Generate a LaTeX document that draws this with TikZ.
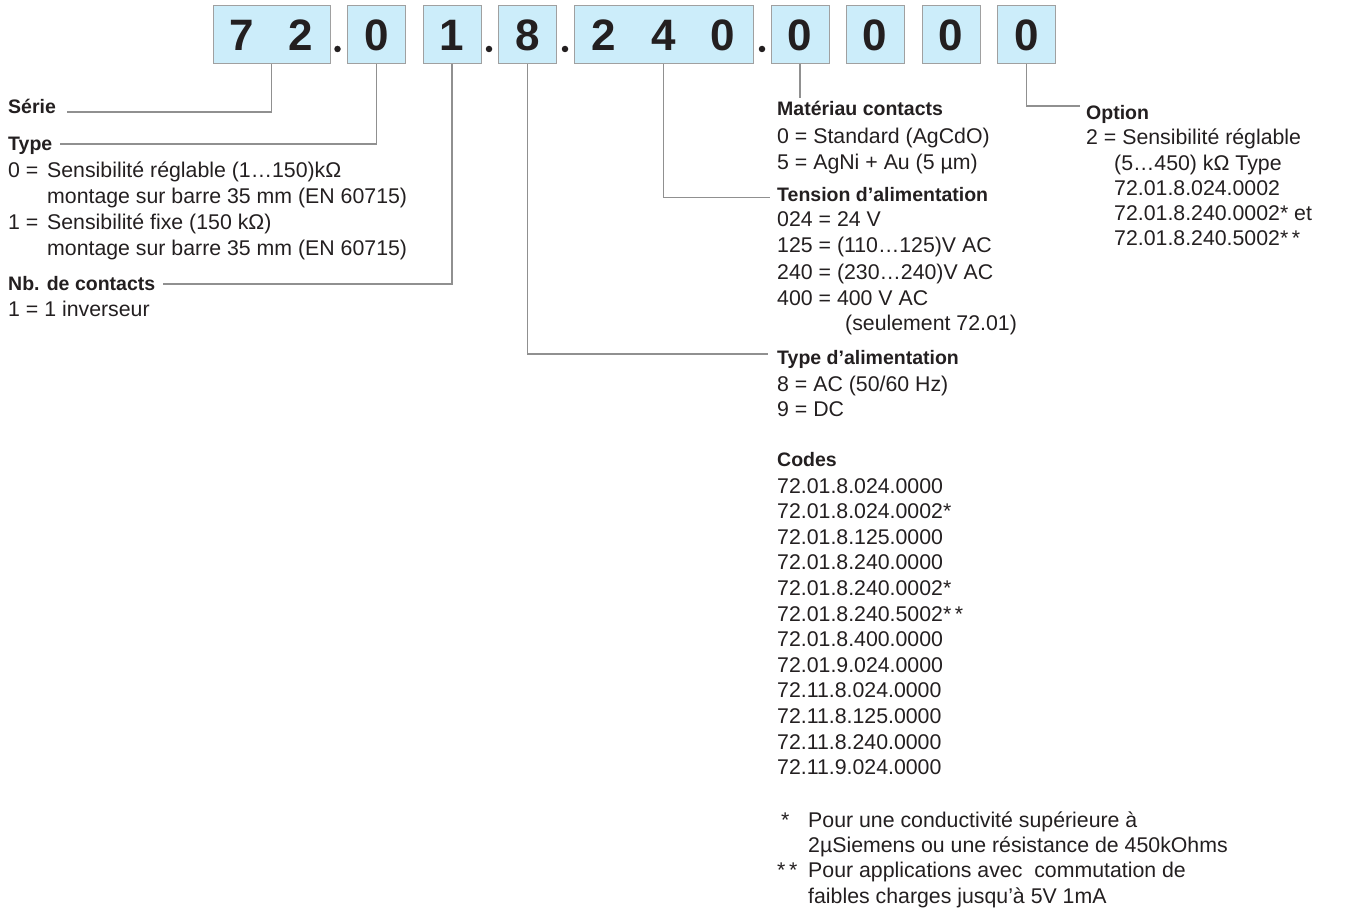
\documentclass[tikz,border=0pt]{standalone}
\usepackage{fontspec}
\setmainfont{Liberation Sans}
\definecolor{boxblue}{HTML}{CCEDFA}
\definecolor{boxgray}{HTML}{A0A0A0}
\definecolor{linegray}{HTML}{909090}
\definecolor{ink}{HTML}{231F20}
\tikzset{
  cell/.style={draw=boxgray, fill=boxblue, line width=1pt, minimum height=58pt, minimum width=58pt, inner sep=0pt, font=\fontsize{44}{44}\selectfont\bfseries, text=ink},
  digit/.style={inner sep=0pt, font=\fontsize{44}{44}\selectfont\bfseries, text=ink},
  lead/.style={draw=linegray, line width=1.1pt},
  txt/.style={anchor=base west, inner sep=0pt, font=\fontsize{21.3}{26}\selectfont, text=ink},
  hd/.style={anchor=base west, inner sep=0pt, font=\fontsize{19.5}{24}\selectfont\bfseries, text=ink},
  sep/.style={circle, fill=ink, inner sep=0pt, minimum size=6.5pt},
}
\begin{document}
\begin{tikzpicture}[x=1pt,y=-1pt]
\useasboundingbox (0,0) rectangle (1364,909);
% code boxes
\node[cell, minimum width=117pt] (b72) at (271.5,35) {};
\node[digit] (d7) at (242,35) {7};
\node[digit] (d2) at (301,35) {2};
\node[sep] (s1) at (337.5,49) {};
\node[cell] (b0a) at (376.5,35) {0};
\node[cell] (b1) at (452,35) {1};
\node[sep] (s2) at (489,49) {};
\node[cell] (b8) at (527.5,35) {8};
\node[sep] (s3) at (565,49) {};
\node[cell, minimum width=179pt] (b240) at (663.5,35) {};
\node[digit] (d2b) at (604,35) {2};
\node[digit] (d4) at (663.5,35) {4};
\node[digit] (d0) at (723,35) {0};
\node[sep] (s4) at (762,49) {};
\node[cell] (b0b) at (800,35) {0};
\node[cell] (b0c) at (875,35) {0};
\node[cell] (b0d) at (951,35) {0};
\node[cell] (b0e) at (1026.5,35) {0};

% left column
\node[hd] (serie) at (8,114) {Série};
\node[hd] (type) at (8,151) {Type};
\node[txt] (t0) at (8,177.7) {\makebox[39pt][l]{0 =}Sensibilité réglable (1…150)kΩ};
\node[txt] (t0b) at (47,203.7) {montage sur barre 35 mm (EN 60715)};
\node[txt] (t1) at (8,229.7) {\makebox[39pt][l]{1 =}Sensibilité fixe (150 kΩ)};
\node[txt] (t1b) at (47,255.7) {montage sur barre 35 mm (EN 60715)};
\node[hd] (nb) at (8,290) {Nb. de contacts};
\node[txt] (nb1) at (8,316) {1 = 1 inverseur};

% middle column
\node[hd] (mat) at (777,116) {Matériau contacts};
\node[txt] (mat0) at (777,143.3) {0 = Standard (AgCdO)};
\node[txt] (mat5) at (777,170) {5 = AgNi + Au (5 µm)};
\node[hd] (ten) at (777,201.5) {Tension d’alimentation};
\node[txt] (v024) at (777,226.7) {024 = 24 V};
\node[txt] (v125) at (777,253) {125 = (110…125)V AC};
\node[txt] (v240) at (777,279) {240 = (230…240)V AC};
\node[txt] (v400) at (777,305.5) {400 = 400 V AC};
\node[txt] (v400b) at (845,330.5) {(seulement 72.01)};
\node[hd] (tal) at (777,364) {Type d’alimentation};
\node[txt] (ac) at (777,391) {8 = AC (50/60 Hz)};
\node[txt] (dc) at (777,416) {9 = DC};
\node[hd] (codes) at (777,466) {Codes};
\foreach \c [count=\i from 0] in {72.01.8.024.0000, 72.01.8.024.0002*, 72.01.8.125.0000, 72.01.8.240.0000, 72.01.8.240.0002*, 72.01.8.240.5002*\,*, 72.01.8.400.0000, 72.01.9.024.0000, 72.11.8.024.0000, 72.11.8.125.0000, 72.11.8.240.0000, 72.11.9.024.0000}
  \node[txt] (code\i) at (777,{493+25.6*\i}) {\c};
\node[txt] (f1m) at (781,827) {*};
\node[txt] (f1a) at (808,827) {Pour une conductivité supérieure à};
\node[txt] (f1b) at (808,852) {2µSiemens ou une résistance de 450kOhms};
\node[txt] (f2m) at (777,877) {*\,*};
\node[txt] (f2a) at (808,877) {Pour applications avec\ \ commutation de};
\node[txt] (f2b) at (808,903) {faibles charges jusqu'à 5V 1mA};

% right column
\node[hd] (opt) at (1086,120) {Option};
\node[txt] (o2) at (1086,145) {2 = Sensibilité réglable};
\node[txt] (o2b) at (1114,170.5) {(5…450) kΩ Type};
\node[txt] (o2c) at (1114,195.5) {72.01.8.024.0002};
\node[txt] (o2d) at (1114,220.5) {72.01.8.240.0002* et};
\node[txt] (o2e) at (1114,245) {72.01.8.240.5002*\,*};

% connectors
\coordinate (mend) at (800,98);
\draw[lead] (b72.south) |- ([xshift=11pt,yshift=2pt]serie.base east);
\draw[lead] (b0a.south) |- ([xshift=8pt,yshift=7pt]type.base east);
\draw[lead] (b1.south) |- ([xshift=8pt,yshift=6pt]nb.base east);
\draw[lead] (b8.south) |- ([xshift=-9pt,yshift=10pt]tal.base west);
\draw[lead] (b240.south) |- ([xshift=-7pt,yshift=4pt]ten.base west);
\draw[lead] (b0b.south) -- (mend);
\draw[lead] (b0e.south) |- ([xshift=-6pt,yshift=14pt]opt.base west);
\end{tikzpicture}
\end{document}
